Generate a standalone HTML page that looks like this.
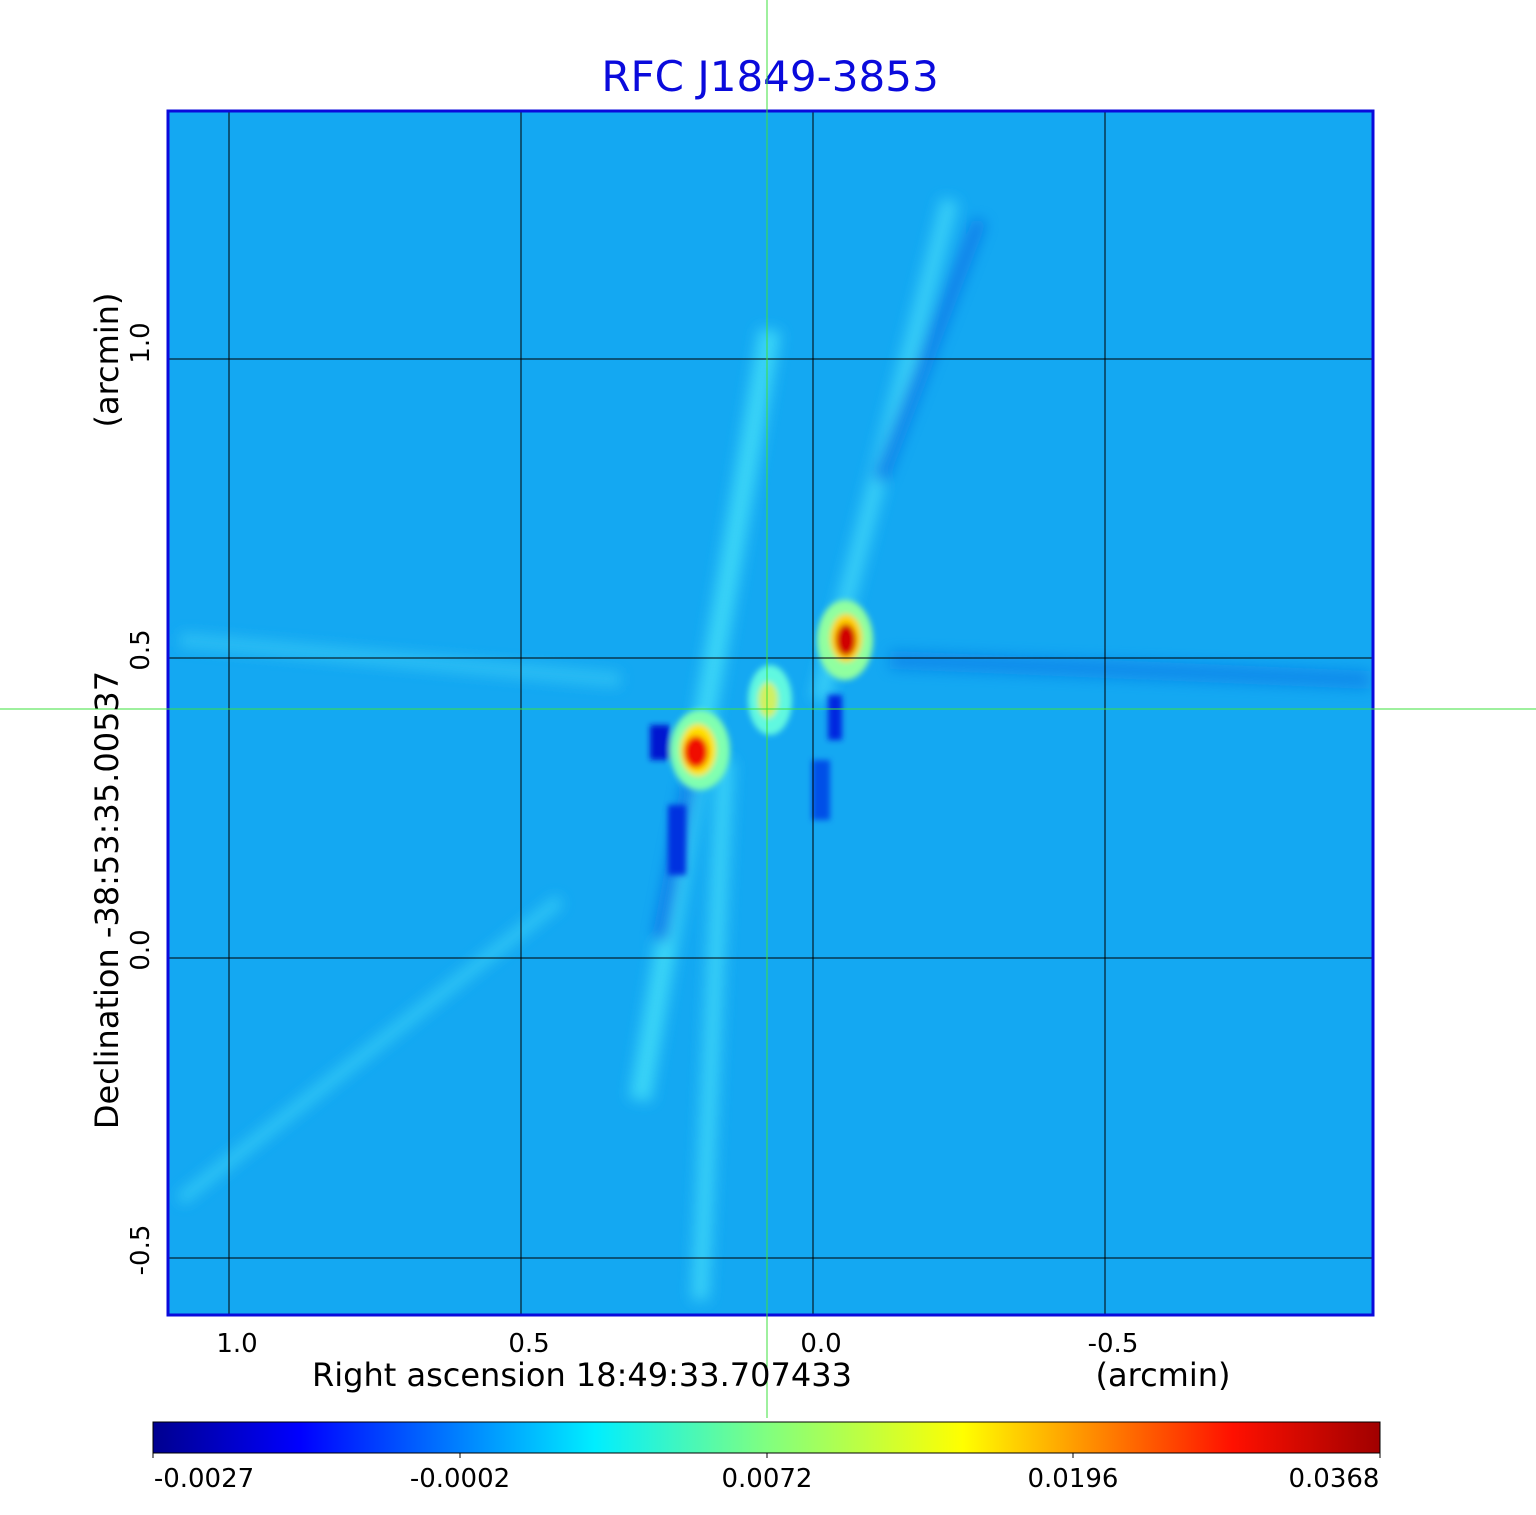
<!DOCTYPE html>
<html><head><style>
body{margin:0;background:#fff;width:1536px;height:1511px;overflow:hidden;font-family:"DejaVu Sans","Liberation Sans",sans-serif}
</style></head><body>
<svg width="1536" height="1511" xmlns="http://www.w3.org/2000/svg" font-family="DejaVu Sans, Liberation Sans, sans-serif">
<defs>
<filter id="b6" x="-50%" y="-50%" width="200%" height="200%"><feGaussianBlur stdDeviation="7"/></filter>
<filter id="b3" x="-50%" y="-50%" width="200%" height="200%"><feGaussianBlur stdDeviation="3"/></filter>
<linearGradient id="cb" x1="0" x2="1" y1="0" y2="0">
<stop offset="0" stop-color="#00008f"/><stop offset="0.12" stop-color="#0000ff"/>
<stop offset="0.36" stop-color="#00eeff"/><stop offset="0.5" stop-color="#80ff80"/>
<stop offset="0.66" stop-color="#ffff00"/><stop offset="0.88" stop-color="#ff1000"/>
<stop offset="1" stop-color="#a00000"/></linearGradient>
<clipPath id="c"><rect x="168" y="111" width="1205" height="1204"/></clipPath>
</defs>
<text x="770" y="91" text-anchor="middle" font-size="42" fill="#0a0adc">RFC J1849-3853</text>
<g clip-path="url(#c)">
<rect x="168" y="111" width="1205" height="1204" fill="#14a8f2"/>
<g filter="url(#b6)" opacity="0.85">
<path d="M640 1100 L770 330" stroke="#40dcf8" stroke-width="22" fill="none"/>
<path d="M700 1300 L725 760" stroke="#3cd6f8" stroke-width="18" fill="none"/>
<path d="M820 700 L950 200" stroke="#3cd4f8" stroke-width="18" fill="none"/>
<path d="M880 480 L980 220" stroke="#0a78e8" stroke-width="14" fill="none"/>
<path d="M660 940 L690 780" stroke="#0a70e8" stroke-width="14" fill="none"/>
<path d="M180 1200 L560 900" stroke="#34ccf5" stroke-width="12" fill="none"/>
<path d="M890 660 L1370 680" stroke="#0c86ea" stroke-width="18" fill="none"/>
<path d="M180 640 L620 680" stroke="#30c4f4" stroke-width="14" fill="none"/>
</g>
<g filter="url(#b3)">
<ellipse cx="700" cy="750" rx="30" ry="40" fill="#80ffb0"/>
<ellipse cx="770" cy="700" rx="22" ry="35" fill="#60f8e0"/>
<ellipse cx="845" cy="640" rx="28" ry="40" fill="#90ffa0"/>
<rect x="650" y="725" width="20" height="35" fill="#0018d0"/>
<rect x="668" y="805" width="18" height="70" fill="#0030e0"/>
<rect x="828" y="695" width="14" height="45" fill="#0028e0"/>
<rect x="812" y="760" width="18" height="60" fill="#0050e8"/>
<ellipse cx="768" cy="700" rx="10" ry="18" fill="#d0f060"/>
<ellipse cx="698" cy="750" rx="18" ry="26" fill="#ffe000"/>
<ellipse cx="846" cy="638" rx="16" ry="24" fill="#ffd000"/>
<ellipse cx="696" cy="752" rx="12" ry="16" fill="#f01000"/>
<ellipse cx="846" cy="640" rx="10" ry="16" fill="#d00000"/>
</g>
<g stroke="#000" stroke-width="1">
<line x1="229" y1="111" x2="229" y2="1315"/><line x1="521" y1="111" x2="521" y2="1315"/>
<line x1="813" y1="111" x2="813" y2="1315"/><line x1="1105" y1="111" x2="1105" y2="1315"/>
<line x1="168" y1="359" x2="1373" y2="359"/><line x1="168" y1="658" x2="1373" y2="658"/>
<line x1="168" y1="958" x2="1373" y2="958"/><line x1="168" y1="1258" x2="1373" y2="1258"/>
</g>
</g>
<rect x="168" y="111" width="1205" height="1204" fill="none" stroke="#0a0adc" stroke-width="3"/>
<line x1="767" y1="0" x2="767" y2="1418" stroke="#3ee03e" stroke-width="1"/>
<line x1="0" y1="709" x2="1536" y2="709" stroke="#3ee03e" stroke-width="1"/>
<g font-size="26" fill="#000" text-anchor="middle">
<text x="237" y="1352">1.0</text><text x="529" y="1352">0.5</text>
<text x="821" y="1352">0.0</text><text x="1113" y="1352">-0.5</text>
<text x="582" y="1386" font-size="32">Right ascension  18:49:33.707433</text>
<text x="1163" y="1386" font-size="32">(arcmin)</text>
</g>
<g font-size="26" fill="#000" text-anchor="middle">
<text transform="translate(149,343) rotate(-90)">1.0</text>
<text transform="translate(149,650) rotate(-90)">0.5</text>
<text transform="translate(149,950) rotate(-90)">0.0</text>
<text transform="translate(149,1250) rotate(-90)">-0.5</text>
<text transform="translate(118,900) rotate(-90)" font-size="32">Declination  -38:53:35.00537</text>
<text transform="translate(118,360) rotate(-90)" font-size="32">(arcmin)</text>
</g>
<rect x="153" y="1422" width="1227" height="31" fill="url(#cb)" stroke="#000" stroke-width="1"/>
<g stroke="#000"><line x1="153" y1="1453" x2="153" y2="1458"/><line x1="460" y1="1453" x2="460" y2="1458"/><line x1="767" y1="1453" x2="767" y2="1458"/><line x1="1073" y1="1453" x2="1073" y2="1458"/><line x1="1380" y1="1453" x2="1380" y2="1458"/></g>
<g font-size="26" fill="#000" text-anchor="middle">
<text x="204" y="1487">-0.0027</text><text x="460" y="1487">-0.0002</text>
<text x="767" y="1487">0.0072</text><text x="1073" y="1487">0.0196</text><text x="1334" y="1487">0.0368</text>
</g>
</svg>
</body></html>
